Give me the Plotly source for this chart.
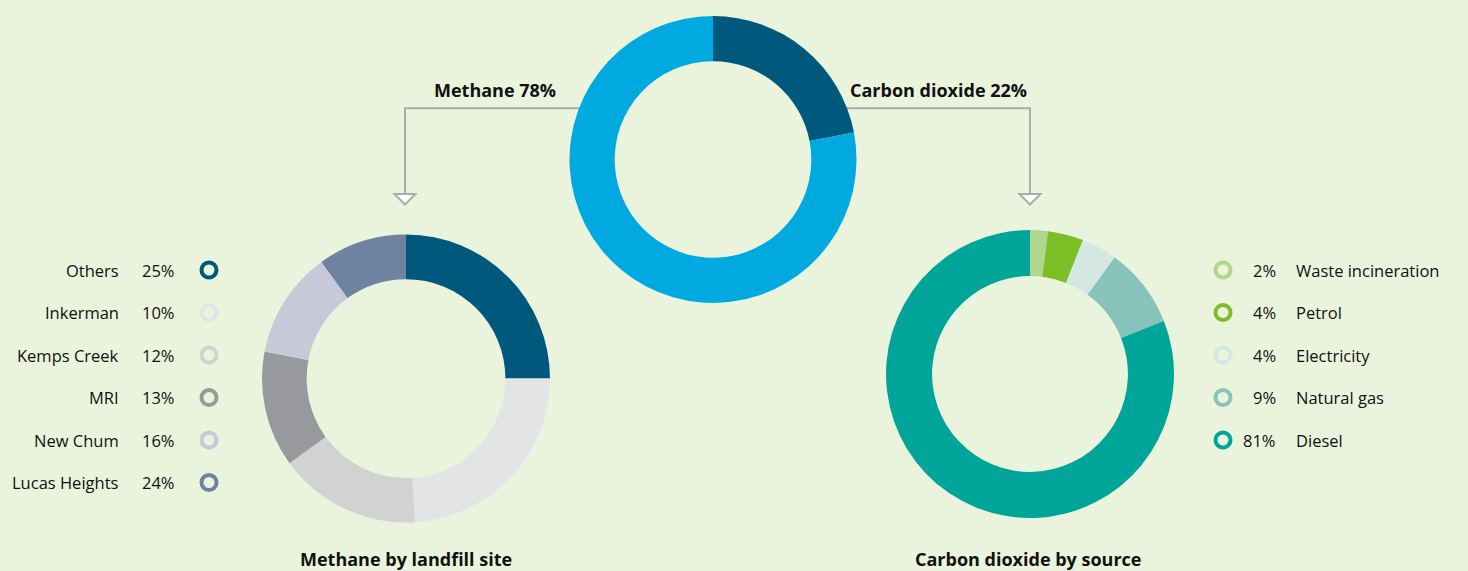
import plotly.graph_objects as go

W, H = 1468, 571

# Top split of emissions
gas_labels = ["Carbon dioxide", "Methane"]
gas_share = [22, 78]
gas_colors = ["#00597D", "#00AAE1"]

# Methane by landfill site (legend order)
sites = ["Others", "Inkerman", "Kemps Creek", "MRI", "New Chum", "Lucas Heights"]
site_share = [25, 10, 12, 13, 16, 24]
site_colors = ["#00597D", "#E3E4E6", "#D2D2D2", "#98999D", "#C6C9D8", "#6E83A0"]
# ring goes clockwise from Others, then the remaining sites bottom-up
ring_sites = [sites[0]] + sites[:0:-1]
ring_share = [site_share[0]] + site_share[:0:-1]

# Carbon dioxide by source
sources = ["Waste incineration", "Petrol", "Electricity", "Natural gas", "Diesel"]
source_share = [2, 4, 4, 9, 81]
source_colors = ["#B1D68E", "#7BBE26", "#D4E7E3", "#85C3BB", "#00A599"]

BG = "#EAF4DD"
LINE = "#ABABAD"
FONT = "Open Sans, sans-serif"
TXT = "#111111"


def dom(cx, cy, r):
    return dict(x=[(cx - r) / W, (cx + r) / W], y=[(H - cy - r) / H, (H - cy + r) / H])


fig = go.Figure()

fig.add_trace(go.Pie(labels=gas_labels, values=gas_share, hole=0.685, sort=False,
                     direction="clockwise", rotation=0, textinfo="none",
                     marker=dict(colors=gas_colors, line=dict(width=0)),
                     domain=dom(713, 159.5, 143.5), showlegend=False))
fig.add_trace(go.Pie(labels=ring_sites, values=ring_share, hole=0.69, sort=False,
                     direction="clockwise", rotation=0, textinfo="none",
                     marker=dict(colors=site_colors, line=dict(width=0)),
                     domain=dom(406, 378.5, 144), showlegend=False))
fig.add_trace(go.Pie(labels=sources, values=source_share, hole=0.68, sort=False,
                     direction="clockwise", rotation=0, textinfo="none",
                     marker=dict(colors=source_colors, line=dict(width=0)),
                     domain=dom(1030, 374, 144), showlegend=False))

# legend rows
left_y = [270, 312.5, 355, 397.5, 440, 482.5]
right_y = [270, 312.5, 355, 397.5, 440]

fig.add_trace(go.Scatter(x=[209] * len(sites), y=left_y, mode="markers",
                         marker=dict(symbol="circle-open", size=15, color=site_colors,
                                     line=dict(width=4, color=site_colors)),
                         showlegend=False, hoverinfo="skip"))
fig.add_trace(go.Scatter(x=[1223] * len(sources), y=right_y, mode="markers",
                         marker=dict(symbol="circle-open", size=15, color=source_colors,
                                     line=dict(width=4, color=source_colors)),
                         showlegend=False, hoverinfo="skip"))

reg = dict(size=16.5, color=TXT, family=FONT)
ann = []
for name, v, y in zip(sites, site_share, left_y):
    ann.append(dict(x=121, y=y, text=name, xanchor="right", yanchor="middle",
                    showarrow=False, font=reg))
    ann.append(dict(x=177, y=y, text=f"{v}%", xanchor="right", yanchor="middle",
                    showarrow=False, font=reg))
for name, v, y in zip(sources, source_share, right_y):
    ann.append(dict(x=1278, y=y, text=f"{v}%", xanchor="right", yanchor="middle",
                    showarrow=False, font=reg))
    ann.append(dict(x=1294, y=y, text=name, xanchor="left", yanchor="middle",
                    showarrow=False, font=reg))

bold = dict(size=18, color=TXT, family=FONT)
ann.append(dict(x=495, y=90, text=f"<b>{gas_labels[1]} {gas_share[1]}%</b>", showarrow=False,
                xanchor="center", yanchor="middle", font=bold))
ann.append(dict(x=938.5, y=90, text=f"<b>{gas_labels[0]} {gas_share[0]}%</b>", showarrow=False,
                xanchor="center", yanchor="middle", font=bold))
ann.append(dict(x=406, y=559, text="<b>Methane by landfill site</b>", showarrow=False,
                xanchor="center", yanchor="middle", font=bold))
ann.append(dict(x=1028, y=559, text="<b>Carbon dioxide by source</b>", showarrow=False,
                xanchor="center", yanchor="middle", font=bold))

# connector elbows and arrow heads
shapes = [
    dict(type="path", path="M 600 108.3 L 405 108.3 L 405 194", xref="x", yref="y",
         line=dict(color=LINE, width=2), layer="below"),
    dict(type="path", path="M 830 108.3 L 1030 108.3 L 1030 194", xref="x", yref="y",
         line=dict(color=LINE, width=2), layer="below"),
    dict(type="path", path="M 394.5 194 L 415.5 194 L 405 204.5 Z", xref="x", yref="y",
         line=dict(color=LINE, width=2), fillcolor="#FFFFFF", layer="above"),
    dict(type="path", path="M 1019.5 194 L 1040.5 194 L 1030 204.5 Z", xref="x", yref="y",
         line=dict(color=LINE, width=2), fillcolor="#FFFFFF", layer="above"),
]

fig.update_layout(
    width=W, height=H, margin=dict(l=0, r=0, t=0, b=0),
    paper_bgcolor=BG, plot_bgcolor="rgba(0,0,0,0)",
    xaxis=dict(range=[0, W], visible=False, fixedrange=True),
    yaxis=dict(range=[H, 0], visible=False, fixedrange=True),
    annotations=ann, shapes=shapes, showlegend=False,
)

fig.write_html("out.html")
